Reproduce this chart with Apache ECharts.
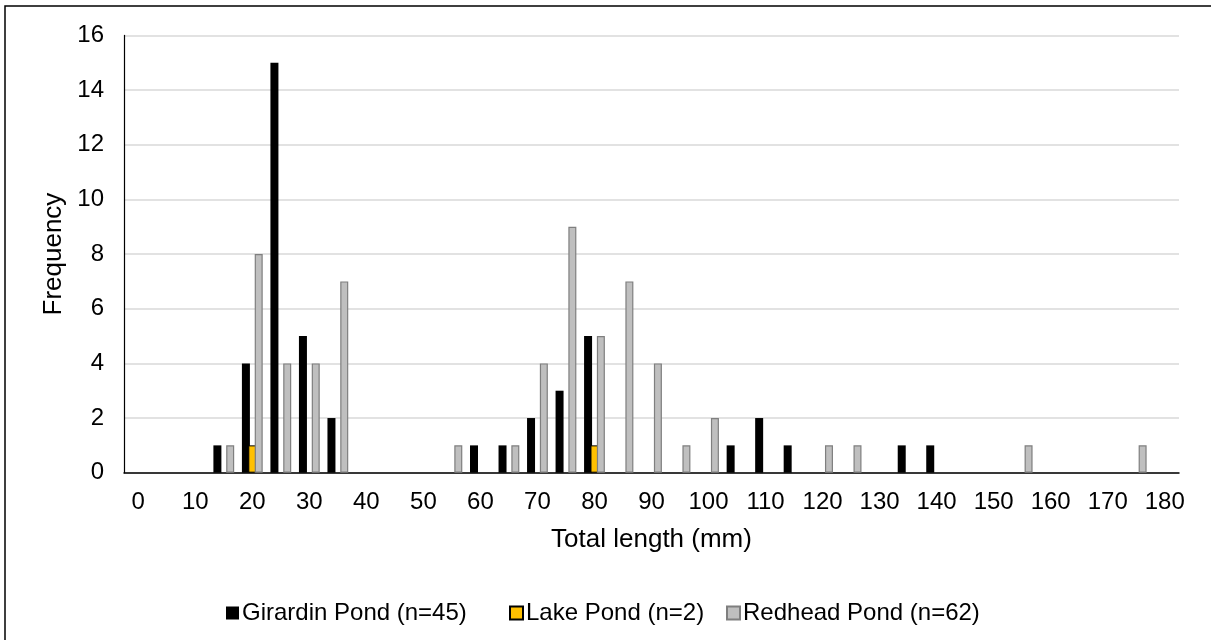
<!DOCTYPE html>
<html>
<head>
<meta charset="utf-8">
<title>Total length frequency by pond</title>
<script src="https://cdn.jsdelivr.net/npm/echarts@6/dist/echarts.min.js"></script>
<style>
  html, body { margin: 0; padding: 0; background: #ffffff; }
  #chart { width: 1211px; height: 640px; }
</style>
</head>
<body>
<div id="chart"></div>
<script>
// Length bins (mm), 5 mm wide
var lengthBins = ['0','5','10','15','20','25','30','35','40','45','50','55','60','65','70','75','80','85','90','95',
                  '100','105','110','115','120','125','130','135','140','145','150','155','160','165','170','175','180'];

// Fish counts per bin for each pond
var girardinCounts = [0,0,0,1,4,15,5,2,0,0,0,0,1,1,2,3,5,0,0,0,0,1,2,1,0,0,0,1,1,0,0,0,0,0,0,0,0];
var lakeCounts     = [0,0,0,0,1,0,0,0,0,0,0,0,0,0,0,0,1,0,0,0,0,0,0,0,0,0,0,0,0,0,0,0,0,0,0,0,0];
var redheadCounts  = [0,0,0,1,8,4,4,7,0,0,0,1,0,1,4,9,5,7,4,1,2,0,0,0,1,1,0,0,0,0,0,1,0,0,0,1,0];

var seriesNames = ['Girardin Pond (n=45)', 'Lake Pond (n=2)', 'Redhead Pond (n=62)'];

var FONT = '"Liberation Sans", Arial, sans-serif';

// empty bins draw no bar at all
function bars(arr) {
  return arr.map(function (v) { return v === 0 ? '-' : v; });
}

// one legend entry per pond, laid out along the bottom
var legendLefts = [221, 504, 721];
var legends = seriesNames.map(function (name, i) {
  return {
    left: legendLefts[i],
    top: 596,
    itemWidth: 13,
    itemHeight: 13,
    icon: 'rect',
    textStyle: { fontFamily: FONT, fontSize: 24, color: '#000', padding: [0, 0, 0, -2] },
    data: [name]
  };
});

var chart = echarts.init(document.getElementById('chart'), null, { renderer: 'canvas' });

chart.setOption({
  backgroundColor: '#ffffff',
  animation: false,
  textStyle: { fontFamily: FONT, color: '#000' },
  graphic: [{
    type: 'rect',
    shape: { x: 5, y: 6, width: 1230, height: 660 },
    style: { fill: 'none', stroke: '#000', lineWidth: 1.5 },
    silent: true,
    z: 100
  }],
  grid: { left: 124, right: 32, top: 35.4, bottom: 167.3, containLabel: false },
  legend: legends,
  xAxis: {
    type: 'category',
    data: lengthBins,
    name: 'Total length (mm)',
    nameLocation: 'middle',
    nameGap: 54,
    nameTextStyle: { fontFamily: FONT, fontSize: 26, color: '#000' },
    axisLine: { lineStyle: { color: '#000', width: 1.5 } },
    axisTick: { show: false },
    axisLabel: { interval: 1, margin: 18, fontFamily: FONT, fontSize: 24, color: '#000' },
    splitLine: { show: false }
  },
  yAxis: {
    type: 'value',
    min: 0,
    max: 16,
    interval: 2,
    name: 'Frequency',
    nameLocation: 'middle',
    nameGap: 50,
    nameTextStyle: { fontFamily: FONT, fontSize: 26, color: '#000' },
    axisLine: { show: true, lineStyle: { color: '#000', width: 1.2 } },
    axisTick: { show: false },
    axisLabel: { margin: 20, fontFamily: FONT, fontSize: 24, color: '#000' },
    splitLine: { lineStyle: { color: '#D9D9D9', width: 1.5 } }
  },
  series: [
    {
      name: seriesNames[0],
      type: 'bar',
      data: bars(girardinCounts),
      barWidth: 8,
      barGap: '-20%',
      itemStyle: { color: '#000000' }
    },
    {
      name: seriesNames[1],
      type: 'bar',
      data: bars(lakeCounts),
      barWidth: 8,
      barGap: '-20%',
      itemStyle: { color: '#FFC000', borderColor: '#000000', borderWidth: 1 }
    },
    {
      name: seriesNames[2],
      type: 'bar',
      data: bars(redheadCounts),
      barWidth: 8,
      barGap: '-20%',
      itemStyle: { color: '#BFBFBF', borderColor: '#7F7F7F', borderWidth: 1.2 }
    }
  ]
});
</script>
</body>
</html>
